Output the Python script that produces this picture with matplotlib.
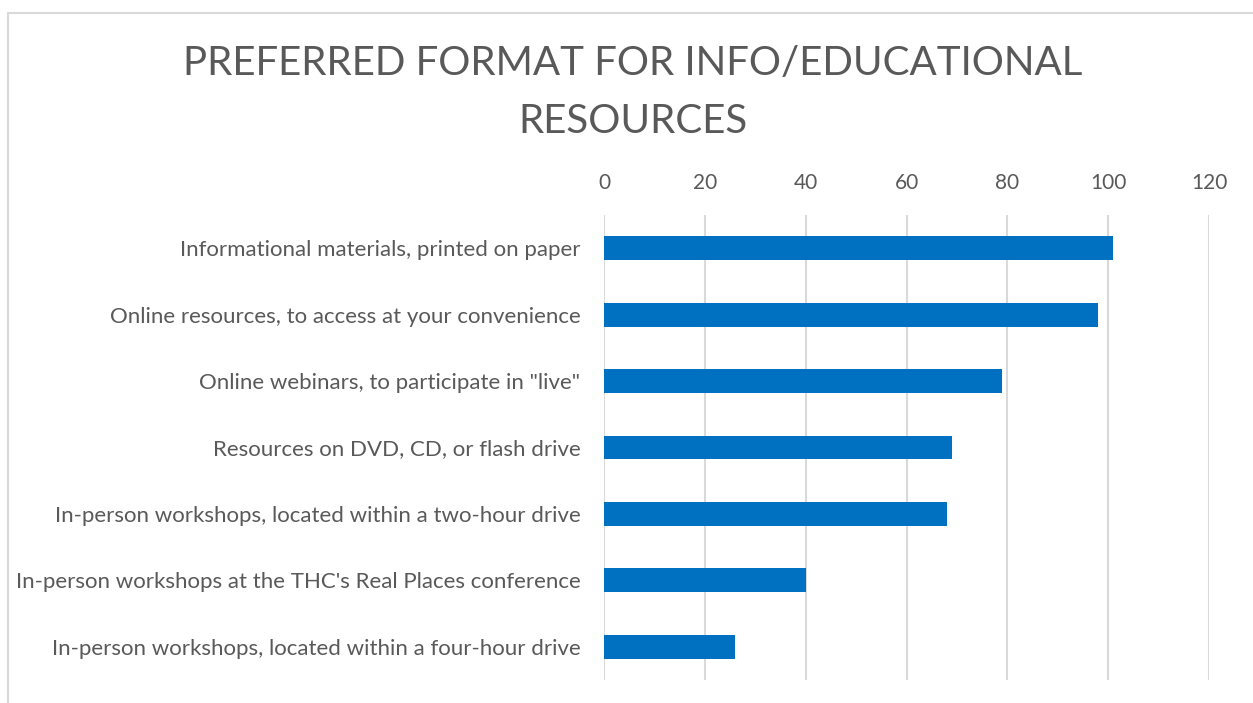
import matplotlib
matplotlib.use("Agg")
import matplotlib.pyplot as plt
from matplotlib.patches import Rectangle

plt.rcParams['font.family'] = ['Lato', 'DejaVu Sans']

# data
categories = [
    "Informational materials, printed on paper",
    "Online resources, to access at your convenience",
    "Online webinars, to participate in \"live\"",
    "Resources on DVD, CD, or flash drive",
    "In-person workshops, located within a two-hour drive",
    "In-person workshops at the THC's Real Places conference",
    "In-person workshops, located within a four-hour drive",
]
counts = [101, 98, 79, 69, 68, 40, 26]
xticks = [0, 20, 40, 60, 80, 100, 120]

title = "PREFERRED FORMAT FOR INFO/EDUCATIONAL\nRESOURCES"

fig = plt.figure(figsize=(12.53, 7.03), dpi=100)
ax = fig.add_axes([0.482, 0.033, 0.483, 0.661])

# chart border
fig.patches.append(Rectangle((8 / 1253, -0.05), 1.2, 0.05 + (703 - 13) / 703,
                             transform=fig.transFigure, fill=False,
                             edgecolor='#d9d9d9', linewidth=1.5))

ypos = list(range(len(categories)))
ax.barh(ypos, counts, height=0.36, color='#0070c0')
ax.set_yticks(ypos)
ax.set_yticklabels(categories)
ax.set_ylim(len(categories) - 0.5, -0.5)
ax.set_xlim(0, 120)
ax.set_xticks(xticks)
ax.xaxis.tick_top()
ax.grid(axis='x', color='#d9d9d9', linewidth=1.5)
ax.set_axisbelow(True)
for s in ax.spines.values():
    s.set_visible(False)
ax.tick_params(length=0, colors='#595959')
ax.tick_params(axis='x', pad=16, labelsize=15)
ax.tick_params(axis='y', pad=17, labelsize=16)

fig.text(0.505, 0.869, title, ha='center', va='center', fontsize=29,
         color='#595959', linespacing=1.7)

fig.savefig("out.png", dpi=100)
